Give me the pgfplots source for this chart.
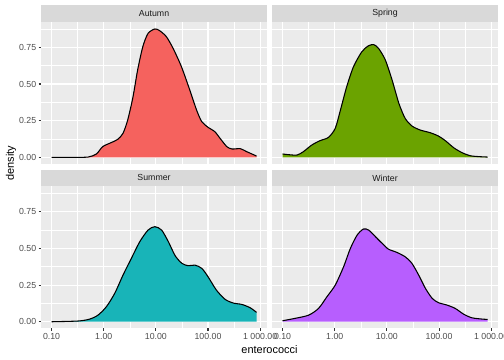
\documentclass[border=0pt]{standalone}
\usepackage{fontspec}
\setmainfont{Liberation Sans}
\usepackage{pgfplots}
\usepackage{pgfplotstable}
\pgfplotsset{compat=1.18}
\definecolor{autumnc}{HTML}{F5625E}
\definecolor{springc}{HTML}{6BA300}
\definecolor{summerc}{HTML}{18B4B8}
\definecolor{winterc}{HTML}{B75EFE}
\definecolor{g92}{HTML}{EBEBEB}
\definecolor{g85}{HTML}{D9D9D9}
\definecolor{g30}{HTML}{4D4D4D}
\definecolor{g20}{HTML}{333333}
\definecolor{g10}{HTML}{1A1A1A}

\pgfplotstableread{
x y
-1.00 0.000
-0.60 0.000
-0.30 0.002
-0.14 0.023
-0.02 0.073
0.14 0.100
0.27 0.123
0.37 0.164
0.46 0.255
0.56 0.410
0.65 0.595
0.75 0.755
0.85 0.845
0.98 0.875
1.07 0.864
1.20 0.823
1.33 0.743
1.49 0.618
1.65 0.459
1.78 0.323
1.88 0.243
2.00 0.205
2.13 0.175
2.23 0.130
2.36 0.073
2.46 0.057
2.62 0.059
2.74 0.039
2.93 0.009
}\autumn

\pgfplotstableread{
x y
-1.00 0.023
-0.88 0.018
-0.72 0.016
-0.60 0.039
-0.44 0.084
-0.28 0.114
-0.12 0.136
0.01 0.198
0.11 0.323
0.23 0.482
0.36 0.618
0.52 0.720
0.65 0.761
0.75 0.768
0.84 0.743
0.97 0.664
1.10 0.527
1.23 0.368
1.35 0.266
1.48 0.214
1.64 0.186
1.83 0.168
1.99 0.145
2.12 0.114
2.28 0.066
2.44 0.032
2.60 0.011
2.76 0.005
2.93 0.002
}\spring

\pgfplotstableread{
x y
-1.00 0.000
-0.49 0.005
-0.27 0.018
-0.11 0.045
0.05 0.102
0.21 0.193
0.37 0.318
0.53 0.432
0.69 0.545
0.85 0.625
0.98 0.648
1.11 0.625
1.24 0.545
1.37 0.450
1.50 0.398
1.62 0.382
1.75 0.386
1.88 0.364
2.00 0.307
2.16 0.216
2.33 0.152
2.49 0.127
2.65 0.118
2.81 0.095
2.93 0.064
}\summer

\pgfplotstableread{
x y
-1.00 0.007
-0.76 0.023
-0.50 0.045
-0.31 0.091
-0.15 0.170
0.01 0.250
0.17 0.375
0.30 0.500
0.43 0.591
0.55 0.632
0.65 0.625
0.78 0.580
0.91 0.534
1.03 0.495
1.19 0.473
1.35 0.443
1.48 0.398
1.61 0.318
1.74 0.227
1.87 0.159
1.99 0.130
2.15 0.114
2.31 0.091
2.47 0.052
2.63 0.027
2.83 0.018
2.93 0.016
}\winter

\pgfplotsset{
  panel/.style={
    scale only axis, width=225.5bp, height=142bp,
    xmin=-1.197, xmax=3.127, ymin=-0.044, ymax=0.924,
    axis background/.style={fill=g92},
    axis line style={draw=none},
    grid=both,
    major grid style={white, line width=1.07pt},
    minor grid style={white, line width=0.53pt},
    xtick={-1,0,1,2,3},
    minor xtick={-0.5,0.5,1.5,2.5},
    ytick={0,0.25,0.5,0.75},
    minor ytick={0.125,0.375,0.625,0.875},
    minor tick length=0pt,
    major tick length=2.75pt,
    tick align=outside,
    xtick pos=left, ytick pos=left,
    every tick/.style={g20, line width=1.07pt},
    xticklabels={0.10,1.00,10.00,100.00,1 000.00},
    yticklabels={0.00,0.25,0.50,0.75},
    tick label style={font=\fontsize{8.8}{10}\selectfont, text=g30},
    xticklabel style={inner sep=0pt, yshift=-2.2pt},
    yticklabel style={inner sep=0pt, xshift=-2.2pt},
    /pgf/number format/assume math mode=true,
  },
  notop/.style={xmajorticks=false},
  noleft/.style={ymajorticks=false},
  fillc/.style={fill=#1, draw=none, forget plot},
  dline/.style={black, line width=1.07pt, smooth, tension=0.45},
}

\begin{document}
\begin{tikzpicture}
\useasboundingbox (0bp,0bp) rectangle (504bp,360bp);

\begin{axis}[panel, notop, name=tl, at={(41.3bp,196.2bp)}, anchor=south west]
  \addplot[fillc=autumnc, smooth, tension=0.45] table {\autumn} \closedcycle;
  \addplot[dline] table {\autumn};
\end{axis}
\begin{axis}[panel, notop, noleft, name=tr, at={(272.3bp,196.2bp)}, anchor=south west]
  \addplot[fillc=springc, smooth, tension=0.45] table {\spring} \closedcycle;
  \addplot[dline] table {\spring};
\end{axis}
\begin{axis}[panel, name=bl, at={(41.3bp,31.8bp)}, anchor=south west]
  \addplot[fillc=summerc, smooth, tension=0.45] table {\summer} \closedcycle;
  \addplot[dline] table {\summer};
\end{axis}
\begin{axis}[panel, noleft, name=br, at={(272.3bp,31.8bp)}, anchor=south west]
  \addplot[fillc=winterc, smooth, tension=0.45] table {\winter} \closedcycle;
  \addplot[dline] table {\winter};
\end{axis}

\foreach \p/\t in {tl/Autumn, tr/Spring, bl/Summer, br/Winter}{
  \fill[g85] (\p.north west) rectangle ([yshift=16.5bp]\p.north east);
  \node[text=g10, font=\fontsize{8.8}{10}\selectfont, inner sep=0pt, anchor=center]
    at ([yshift=8.25bp]\p.north) {\t};
}

\node[font=\fontsize{11}{13}\selectfont, rotate=90, inner sep=0pt] at (11bp,197bp) {density};
\node[font=\fontsize{11}{13}\selectfont, inner sep=0pt] at (269.5bp,10.5bp) {enterococci};
\end{tikzpicture}
\end{document}
